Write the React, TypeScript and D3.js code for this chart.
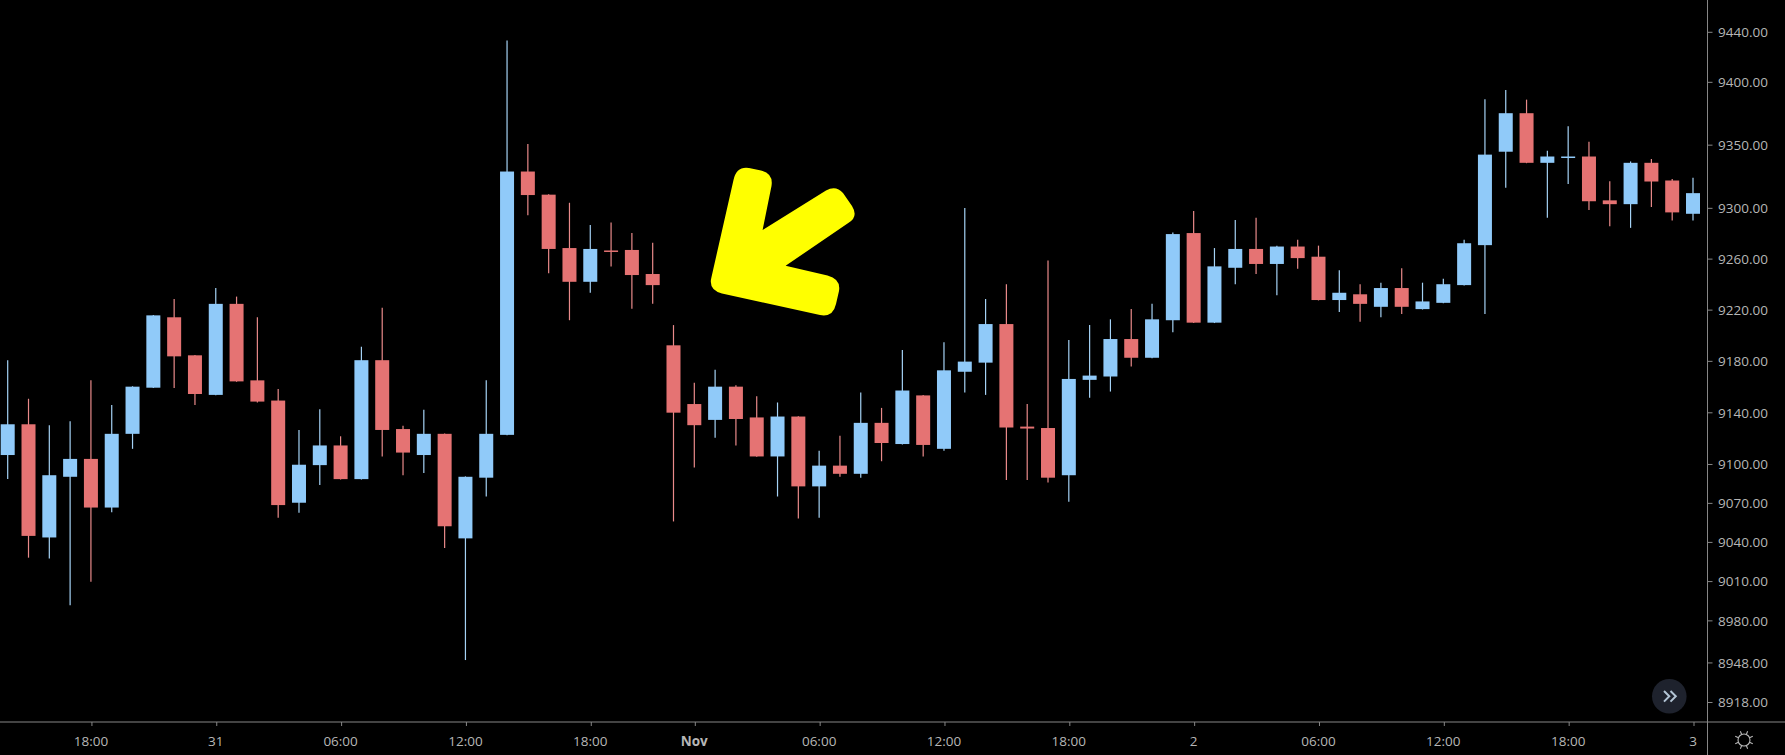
import React from "react";
import * as d3 from "d3";

const opens = [9107.3,9131.1,9043.8,9090.5,9104.3,9066.8,9123.7,9159.5,9214.4,9184.7,9153.9,9224.9,9165.2,9149.5,9070.5,9099.5,9114.7,9088.7,9180.9,9127.4,9107.3,9123.7,9043.1,9089.8,9122.9,9329.1,9310.8,9268.7,9242.2,9266.8,9267.2,9248.3,9192.5,9146.8,9134.5,9160.3,9136.4,9106.2,9137.1,9083.1,9099.1,9092.8,9132.2,9115.8,9153.5,9112.1,9171.9,9179,9209.1,9129.3,9128.2,9091.7,9165.6,9168.2,9197.4,9182.8,9212.1,9280.5,9210.2,9253.2,9268,9256.2,9269.9,9261.9,9227.9,9232.4,9222.6,9237.3,9220.8,9225.7,9239.6,9271,9344.8,9375.4,9336,9340.2,9341,9306.3,9303.3,9336,9322,9295.7];
const highs = [9180.9,9150.9,9130.4,9133.4,9165.2,9146.1,9160.6,9216.2,9228.7,9185,9237.3,9230.6,9214.4,9158.4,9126.7,9142.7,9121.8,9191.4,9221.9,9130,9142.3,9124,9090.8,9165.2,9433.4,9350.9,9311.1,9304.4,9286.9,9288.8,9280.5,9272.9,9208.3,9163.3,9173.4,9161.4,9152.8,9148,9137.4,9110.7,9122.2,9155.8,9143.8,9188.8,9153.8,9194.8,9300.2,9228.7,9240.3,9146.8,9258.9,9196.6,9208.3,9212.8,9220.8,9224.9,9280.9,9297.9,9268.7,9290.8,9292.6,9270.6,9275.2,9270.6,9251.3,9240.3,9241.5,9252.8,9241.5,9244.5,9275.2,9386.5,9393.8,9386.2,9345.5,9365,9352.8,9321.5,9337.1,9339.1,9323.1,9324.2];
const lows = [9088.7,9028.3,9027.6,8991.9,9009.9,9063.1,9112.1,9159.2,9159.2,9146.1,9153.6,9164.1,9148,9059,9062.8,9084.2,9088.4,9088.4,9106.2,9091.7,9093.5,9035.8,8950.2,9075.3,9122.6,9294.5,9249,9212.1,9233.6,9254.3,9221.1,9224.9,9056.1,9097.6,9120.6,9114.7,9105.9,9075.3,9058.3,9059,9090.5,9089.8,9102.5,9115.5,9106.2,9110.7,9155.8,9153.9,9088,9088,9086.1,9071.2,9151.7,9156.5,9176,9182.5,9202.7,9209.9,9209.9,9240.3,9248.3,9231.7,9252.4,9227.6,9218.5,9211,9214.4,9217,9220.5,9225.4,9239.3,9217,9316.2,9335.7,9292.6,9319.2,9298.7,9285.8,9284.6,9301,9290.4,9290.4];
const closes = [9131.1,9045,9091.7,9104.3,9066.8,9123.7,9160.3,9215.9,9183.9,9154.6,9224.9,9164.4,9148.7,9068.7,9099.8,9114.7,9088.7,9180.9,9126.7,9109.2,9123.7,9052.4,9090.5,9123.7,9329.1,9310.5,9268,9242.2,9268,9265.7,9247.5,9239.6,9140.1,9130.4,9160.3,9135.2,9106.2,9137.1,9083.1,9099.1,9092.8,9132.2,9116.6,9157.3,9115.1,9173,9179.8,9209.1,9128.6,9127.8,9089.8,9166.3,9168.9,9197.4,9182.8,9212.8,9279.7,9210.2,9254.3,9268,9256.2,9269.9,9260.8,9227.9,9233.6,9224.9,9237.3,9222.6,9226.8,9240.3,9272.5,9342.5,9375.4,9336,9341,9341,9305.6,9303.3,9336,9321.2,9296.8,9312];

const priceTicks = [9440,9400,9350,9300,9260,9220,9180,9140,9100,9070,9040,9010,8980,8948,8918];
const timeTickIndex = [4,10,16,22,28,33,39,45,51,57,63,69,75,81];
const timeTickLabels = ["18:00","31","06:00","12:00","18:00","Nov","06:00","12:00","18:00","2","06:00","12:00","18:00","3"];

const W = 1785, H = 755;
const UP = "#90caf9", DOWN = "#e57373", UP_WICK = "#a5d2f5", DOWN_WICK = "#e98a8a", AXIS = "#868686", TEXT = "#b6b6b6";
const FONT = "'Open Sans', 'Liberation Sans', sans-serif";
const AXIS_X = 1707.5, AXIS_Y = 722;

const x = d3.scaleLinear().domain([0, 81]).range([7.7, 1693]);
const y = d3.scaleLog().domain([8918, 9440]).range([702.5, 32.3]);

const arrowPath =
  "M733.5 180 Q736.5 166 749 168 L761 170.5 Q773.5 173.5 771.5 186 L762.6 230.1 L826 190.5 Q836 185 843 193 L852 206 Q858.5 216.5 849 222.5 L785.6 265.8 L827.5 275.5 Q841 279 839 291 L836 304 Q833 317.5 820 315 L722 293.5 Q708 290 711.5 277 Z";

export default function App() {
  const bodyW = 14;
  const sunRays = d3.range(8).map((k) => (k * Math.PI) / 4 + Math.PI / 8);
  return (
    <svg width={W} height={H} viewBox={`0 0 ${W} ${H}`} style={{ position: "absolute", left: 0, top: 0, display: "block", background: "#000" }}>
      <rect x={0} y={0} width={W} height={H} fill="#000" />
      {opens.map((o, i) => {
        const c = closes[i];
        const up = c >= o;
        const color = up ? UP : DOWN;
        const top = y(Math.max(o, c));
        const bot = y(Math.min(o, c));
        return (
          <g key={i}>
            <line x1={x(i)} x2={x(i)} y1={y(highs[i])} y2={y(lows[i])} stroke={up ? UP_WICK : DOWN_WICK} strokeWidth={1.2} />
            <rect x={x(i) - bodyW / 2} y={top} width={bodyW} height={Math.max(bot - top, 1.5)} fill={color} />
          </g>
        );
      })}
      <path d={arrowPath} fill="#ffff00" />
      <line x1={0} x2={W} y1={AXIS_Y} y2={AXIS_Y} stroke={AXIS} strokeWidth={1} />
      <line x1={AXIS_X} x2={AXIS_X} y1={0} y2={H} stroke={AXIS} strokeWidth={1} />
      {priceTicks.map((p) => (
        <g key={p}>
          <line x1={AXIS_X} x2={AXIS_X + 5} y1={y(p)} y2={y(p)} stroke={AXIS} strokeWidth={1} />
          <text x={1718} y={y(p)} dy="0.35em" fontFamily={FONT} fontSize={13.5} fill={TEXT}>{p.toFixed(2)}</text>
        </g>
      ))}
      {timeTickIndex.map((t, k) => (
        <g key={k}>
          <line x1={x(t) + 1} x2={x(t) + 1} y1={AXIS_Y} y2={AXIS_Y + 4} stroke={AXIS} strokeWidth={1} />
          <text x={x(t)} y={741.5} dy="0.35em" textAnchor="middle" fontFamily={FONT} fontSize={13.5} fontWeight={timeTickLabels[k] === "Nov" ? 700 : 400} fill={TEXT}>{timeTickLabels[k]}</text>
        </g>
      ))}
      <circle cx={1669.3} cy={696.3} r={17.3} fill="#1e222d" />
      <path d="M1664 691 L1669.3 696.3 L1664 701.6 M1670.5 691 L1675.8 696.3 L1670.5 701.6" fill="none" stroke="#b2c4d4" strokeWidth={2} />
      <circle cx={1744} cy={740} r={6} fill="none" stroke={TEXT} strokeWidth={1.1} />
      {sunRays.map((a, k) => (
        <line key={k} x1={1744 + 6 * Math.cos(a)} y1={740 + 6 * Math.sin(a)} x2={1744 + 9.5 * Math.cos(a)} y2={740 + 9.5 * Math.sin(a)} stroke={TEXT} strokeWidth={1.1} />
      ))}
    </svg>
  );
}
